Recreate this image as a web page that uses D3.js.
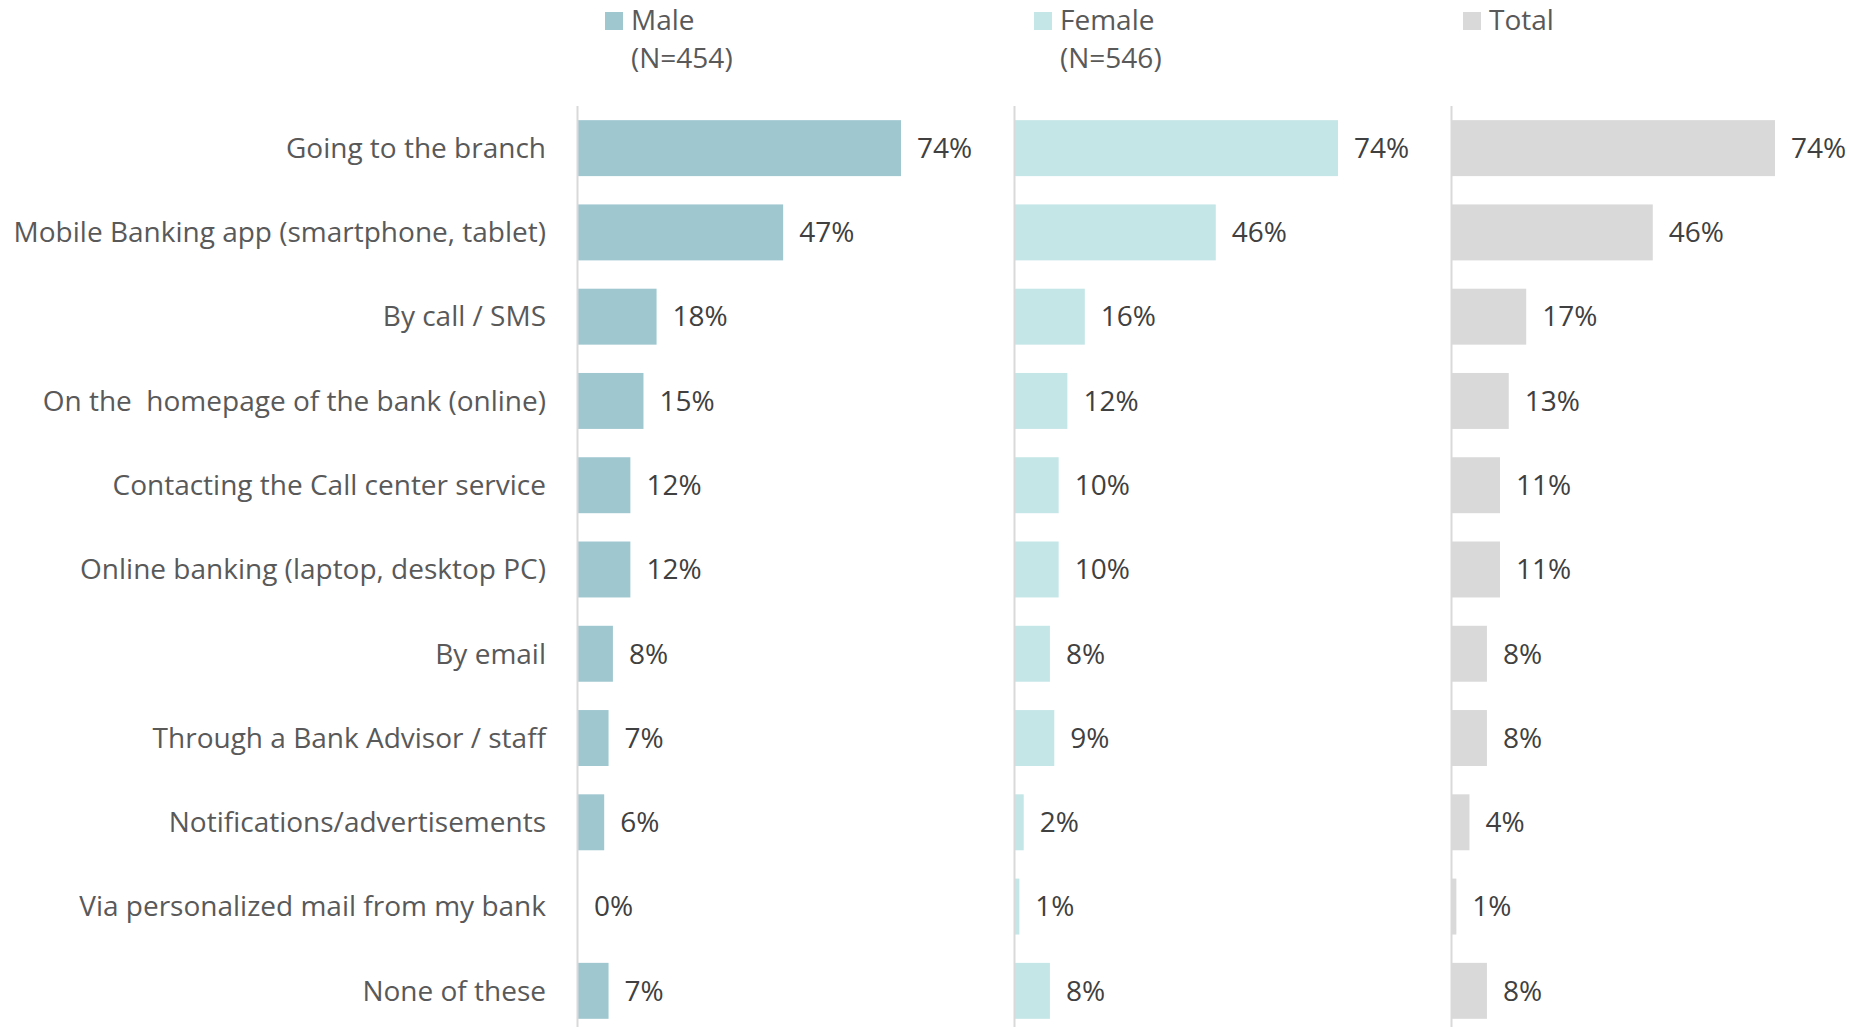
<!DOCTYPE html>
<html>
<head>
<meta charset="utf-8">
<script src="https://cdn.jsdelivr.net/npm/d3@7"></script>
<style>
  html, body { margin: 0; padding: 0; background: #ffffff; }
  svg { display: block; font-family: "Open Sans", Lato, sans-serif; }
  svg text { white-space: pre; }
</style>
</head>
<body>
<svg id="chart" width="1849" height="1027"></svg>
<script>
// Channels through which customers get information from their bank
const categories = [
  "Going to the branch",
  "Mobile Banking app (smartphone, tablet)",
  "By call / SMS",
  "On the  homepage of the bank (online)",
  "Contacting the Call center service",
  "Online banking (laptop, desktop PC)",
  "By email",
  "Through a Bank Advisor / staff",
  "Notifications/advertisements",
  "Via personalized mail from my bank",
  "None of these"
];

const seriesNames = ["Male", "Female", "Total"];
const seriesNotes = ["(N=454)", "(N=546)", ""];

const maleValues   = [74, 47, 18, 15, 12, 12, 8, 7, 6, 0, 7];
const femaleValues = [74, 46, 16, 12, 10, 10, 8, 9, 2, 1, 8];
const totalValues  = [74, 46, 17, 13, 11, 11, 8, 8, 4, 1, 8];

const seriesColors = ["#9fc7d0", "#c5e6e7", "#d9d9d9"];

const series = [maleValues, femaleValues, totalValues];

const svg = d3.select("#chart");

// Layout
const panelLeft = 578;      // x of first panel's baseline
const panelStep = 437;      // distance between panels
const plotTop = 106;
const rowStep = 84.27;

const y = d3.scaleBand()
  .domain(categories)
  .range([plotTop, plotTop + rowStep * categories.length])
  .paddingInner(0.336)
  .paddingOuter(0.168);

const x = d3.scaleLinear().domain([0, 100]).range([0, panelStep - 0.5]);

const fontSize = 28;

// Category labels
svg.append("g")
  .selectAll("text")
  .data(categories)
  .join("text")
  .attr("x", panelLeft - 32)
  .attr("y", d => y(d) + y.bandwidth() / 2)
  .attr("dy", "0.35em")
  .attr("text-anchor", "end")
  .attr("font-size", fontSize)
  .attr("fill", "#595959")
  .text(d => d);

// One panel per series
series.forEach((vals, i) => {
  const g = svg.append("g")
    .attr("transform", `translate(${panelLeft + i * panelStep},0)`);

  g.selectAll("rect")
    .data(vals)
    .join("rect")
    .attr("x", 0)
    .attr("y", (d, j) => y(categories[j]))
    .attr("width", d => x(d))
    .attr("height", y.bandwidth())
    .attr("fill", seriesColors[i]);

  g.append("line")
    .attr("x1", -0.5).attr("x2", -0.5)
    .attr("y1", plotTop).attr("y2", 1030)
    .attr("stroke", "#d9d9d9")
    .attr("stroke-width", 2);

  g.selectAll("text.value")
    .data(vals)
    .join("text")
    .attr("class", "value")
    .attr("x", d => x(d) + 16)
    .attr("y", (d, j) => y(categories[j]) + y.bandwidth() / 2)
    .attr("dy", "0.35em")
    .attr("font-size", fontSize)
    .attr("fill", "#404040")
    .text(d => d + "%");
});

// Legend
const legendLeft = 605;
const legendStep = 429;
const legend = svg.append("g");
seriesNames.forEach((name, i) => {
  const lg = legend.append("g")
    .attr("transform", `translate(${legendLeft + i * legendStep},0)`);
  lg.append("rect")
    .attr("x", 0).attr("y", 12)
    .attr("width", 18).attr("height", 18)
    .attr("fill", seriesColors[i]);
  lg.append("text")
    .attr("x", 26).attr("y", 30)
    .attr("font-size", fontSize)
    .attr("fill", "#595959")
    .text(name);
  if (seriesNotes[i]) {
    lg.append("text")
      .attr("x", 26).attr("y", 68)
      .attr("font-size", fontSize)
      .attr("fill", "#595959")
      .text(seriesNotes[i]);
  }
});
</script>
</body>
</html>
